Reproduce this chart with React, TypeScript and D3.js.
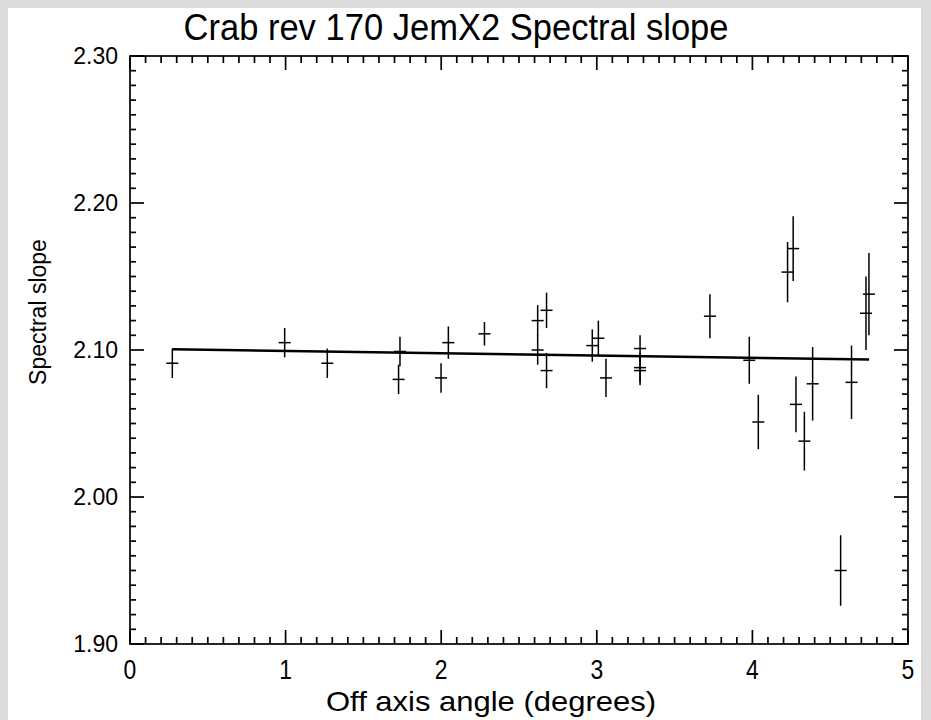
import React, { useEffect, useRef } from "react";
import * as d3 from "d3";

// Off-axis angle (degrees) of each observation
const angles = [
  0.272, 0.994, 1.268, 1.735, 1.726, 1.999, 2.046, 2.278, 2.62, 2.62,
  2.677, 2.677, 2.971, 3.01, 3.059, 3.278, 3.278, 3.278, 3.727, 3.98,
  4.038, 4.226, 4.262, 4.28, 4.334, 4.387, 4.567, 4.637, 4.73, 4.749,
];
// Fitted spectral slope (photon index)
const slopes = [
  2.091, 2.105, 2.091, 2.099, 2.08, 2.081, 2.105, 2.111, 2.12, 2.1,
  2.127, 2.086, 2.103, 2.108, 2.081, 2.101, 2.088, 2.086, 2.123, 2.093,
  2.051, 2.153, 2.169, 2.063, 2.038, 2.077, 1.95, 2.078, 2.125, 2.138,
];
// 1-sigma uncertainty on the slope
const slopeErrors = [
  0.01, 0.01, 0.01, 0.01, 0.01, 0.01, 0.011, 0.008, 0.0105, 0.01,
  0.012, 0.012, 0.011, 0.012, 0.013, 0.009, 0.01, 0.01, 0.015, 0.016,
  0.0185, 0.0205, 0.022, 0.019, 0.02, 0.025, 0.024, 0.025, 0.025, 0.028,
];
// Linear trend through the measurements
const fitAngles = [0.272, 4.75];
const fitSlopes = [2.1005, 2.0935];

const xTickValues = [0, 1, 2, 3, 4, 5];
const yTickValues = [1.9, 2.0, 2.1, 2.2, 2.3];

const W = 931;
const H = 720;
const M = { left: 130, right: 908, top: 56, bottom: 644 };
const FONT = "'Liberation Sans', Arial, Helvetica, sans-serif";

export default function App() {
  const ref = useRef<SVGSVGElement | null>(null);

  useEffect(() => {
    const svg = d3.select(ref.current);
    svg.selectAll("*").remove();

    svg.append("rect").attr("width", W).attr("height", H).attr("fill", "#dcdcdc");
    svg.append("rect").attr("x", 8).attr("y", 8).attr("width", 913).attr("height", H - 8).attr("fill", "#ffffff");

    const x = d3.scaleLinear().domain([0, 5]).range([M.left, M.right]);
    const y = d3.scaleLinear().domain([1.9, 2.3]).range([M.bottom, M.top]);

    const minorX = d3.range(0, 5.0001, 0.1).map((v) => +v.toFixed(2));
    const minorY = d3.range(1.9, 2.3001, 0.01).map((v) => +v.toFixed(3));

    const axes = svg.append("g").attr("stroke", "#000").attr("stroke-width", 1.7).attr("fill", "none");

    // frame
    axes.append("rect")
      .attr("x", M.left).attr("y", M.top)
      .attr("width", M.right - M.left).attr("height", M.bottom - M.top);

    const isMajor = (v: number, step: number, base: number) =>
      Math.abs((v - base) / step - Math.round((v - base) / step)) < 1e-6;

    // x ticks, bottom and top, pointing inward
    minorX.forEach((v) => {
      const len = isMajor(v, 1, 0) ? 14 : 7;
      axes.append("line").attr("x1", x(v)).attr("x2", x(v)).attr("y1", M.bottom).attr("y2", M.bottom - len);
      axes.append("line").attr("x1", x(v)).attr("x2", x(v)).attr("y1", M.top).attr("y2", M.top + len);
    });
    // y ticks, left and right, pointing inward
    minorY.forEach((v) => {
      const len = isMajor(v, 0.1, 1.9) ? 14 : 6;
      axes.append("line").attr("y1", y(v)).attr("y2", y(v)).attr("x1", M.left).attr("x2", M.left + len);
      axes.append("line").attr("y1", y(v)).attr("y2", y(v)).attr("x1", M.right).attr("x2", M.right - len);
    });

    const text = svg.append("g").attr("fill", "#000").attr("font-family", FONT);

    text.selectAll("text.xt")
      .data(xTickValues)
      .join("text")
      .attr("class", "xt")
      .attr("transform", (d) => `translate(${x(d)},679) scale(0.85,1)`)
      .attr("text-anchor", "middle")
      .attr("font-size", 27)
      .text((d) => d3.format("d")(d));

    text.selectAll("text.yt")
      .data(yTickValues)
      .join("text")
      .attr("class", "yt")
      .attr("x", 118)
      .attr("y", (d) => y(d) + 8)
      .attr("text-anchor", "end")
      .attr("font-size", 23)
      .text((d) => d3.format(".2f")(d));

    text.append("text")
      .attr("x", 456).attr("y", 40)
      .attr("text-anchor", "middle")
      .attr("font-size", 36)
      .attr("textLength", 545)
      .attr("lengthAdjust", "spacingAndGlyphs")
      .text("Crab rev 170 JemX2 Spectral slope");

    text.append("text")
      .attr("x", 491).attr("y", 711)
      .attr("text-anchor", "middle")
      .attr("font-size", 28)
      .attr("textLength", 330)
      .attr("lengthAdjust", "spacingAndGlyphs")
      .text("Off axis angle (degrees)");

    text.append("text")
      .attr("transform", "translate(46,312) rotate(-90)")
      .attr("text-anchor", "middle")
      .attr("font-size", 23)
      .text("Spectral slope");

    // trend line
    const fit = fitAngles.map((a, i) => [a, fitSlopes[i]] as [number, number]);
    svg.append("path")
      .attr("d", d3.line<[number, number]>().x((d) => x(d[0])).y((d) => y(d[1]))(fit))
      .attr("stroke", "#000")
      .attr("stroke-width", 2.6)
      .attr("fill", "none");

    // error-bar crosses
    const pts = angles.map((a, i) => ({ a, s: slopes[i], e: slopeErrors[i] }));
    const g = svg.append("g").attr("stroke", "#000").attr("stroke-width", 1.5);
    pts.forEach((p) => {
      g.append("line").attr("x1", x(p.a)).attr("x2", x(p.a)).attr("y1", y(p.s - p.e)).attr("y2", y(p.s + p.e));
      g.append("line").attr("x1", x(p.a) - 6).attr("x2", x(p.a) + 6).attr("y1", y(p.s)).attr("y2", y(p.s));
    });
  }, []);

  return (
    <svg ref={ref} width={W} height={H} style={{ position: "absolute", left: 0, top: 0, display: "block" }} />
  );
}
